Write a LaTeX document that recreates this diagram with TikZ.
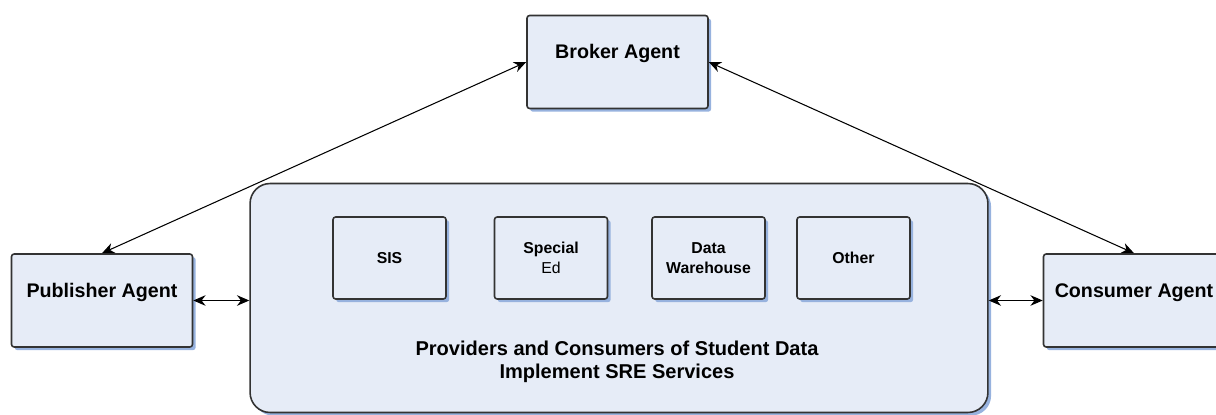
\documentclass[tikz,border=0pt]{standalone}
\usepackage{fontspec}
\setmainfont{Liberation Sans}
\usepackage{tikz}
\usetikzlibrary{positioning, calc, arrows.meta, shadows}

\definecolor{boxfill}{HTML}{E6ECF7}
\definecolor{boxline}{HTML}{333333}
\definecolor{boxshadow}{HTML}{97B2DE}

\begin{document}
\begin{tikzpicture}[x=0.02cm, y=-0.02cm,
        agent/.style={draw=boxline, line width=0.9pt, fill=boxfill, rounded corners=1.5pt,
            minimum width=3.62cm, minimum height=1.86cm, font=\fontsize{11.2}{13}\selectfont\bfseries,
            text height=8pt, text depth=11.5pt,
            drop shadow={shadow xshift=1.8pt, shadow yshift=-1.8pt, fill=boxshadow, opacity=1}},
        system/.style={draw=boxline, line width=0.9pt, fill=boxfill, rounded corners=1.5pt,
            minimum width=2.26cm, minimum height=1.64cm, align=center,
            font=\fontsize{9}{11}\selectfont\bfseries,
            drop shadow={shadow xshift=1.8pt, shadow yshift=-1.8pt, fill=boxshadow, opacity=1}},
        link/.style={line width=0.6pt, {Stealth[length=7pt,width=6pt]}-{Stealth[length=7pt,width=6pt]}}]

        \useasboundingbox (0,0) rectangle (1216,415);

        % the three agents
        \node[agent] (broker) at (617.5,62) {Broker Agent};
        \node[agent] (publisher) at (102,300.5) {Publisher Agent};
        \node[agent] (consumer) at (1134,300.5) {Consumer Agent};

        % providers and consumers of student data
        \node[draw=boxline, line width=0.9pt, fill=boxfill, rounded corners=0.4cm,
            minimum width=14.76cm, minimum height=4.58cm,
            drop shadow={shadow xshift=1.8pt, shadow yshift=-1.8pt, fill=boxshadow, opacity=1}]
            (sre) at (619,298) {};
        \node[system] (sis) at (389.5,258) {SIS};
        \node[system] (sped) at (551,258) {Special\\\mdseries Ed};
        \node[system] (dw) at (708.5,258) {Data\\Warehouse};
        \node[system] (other) at (853.5,258) {Other};
        \node[align=center, font=\fontsize{11.4}{13}\selectfont\bfseries] (caption) at (617,362)
            {Providers and Consumers of Student Data\\Implement SRE Services};

        % connections
        \draw[link] (broker.west) -- (publisher.north);
        \draw[link] (broker.east) -- (consumer.north);
        \draw[link] (publisher.east) -- (publisher.east -| sre.west);
        \draw[link] (consumer.west -| sre.east) -- (consumer.west);

\end{tikzpicture}
\end{document}
